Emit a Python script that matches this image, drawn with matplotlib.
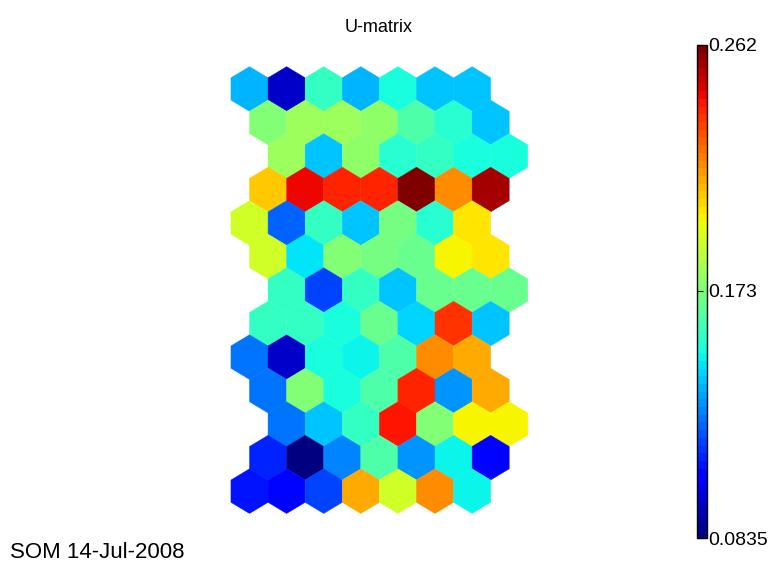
import numpy as np
import matplotlib
matplotlib.use("Agg")
from matplotlib import pyplot as plt
from matplotlib.collections import PolyCollection

plt.rcParams['font.family'] = ['Liberation Sans', 'DejaVu Sans']

# U-matrix distances, 13 rows x 7 units, top row first
umat = [
    [0.1365, 0.0947, 0.1585, 0.1365, 0.1531, 0.1420, 0.1420],
    [0.1754, 0.1811, 0.1811, 0.1781, 0.1616, 0.1560, 0.1420],
    [0.1811, 0.1406, 0.1781, 0.1560, 0.1585, 0.1531, 0.1531],
    [0.2076, 0.2442, 0.2370, 0.2370, 0.2620, 0.2174, 0.2549],
    [0.1897, 0.1228, 0.1585, 0.1406, 0.1701, 0.1560, 0.2013],
    [0.1897, 0.1451, 0.1754, 0.1701, 0.1674, 0.1990, 0.2030],
    [0.1585, 0.1174, 0.1585, 0.1406, 0.1674, 0.1674, 0.1674],
    [0.1585, 0.1585, 0.1531, 0.1674, 0.1433, 0.2342, 0.1406],
    [0.1254, 0.0947, 0.1531, 0.1504, 0.1638, 0.2201, 0.2120],
    [0.1254, 0.1728, 0.1513, 0.1616, 0.2370, 0.1335, 0.2120],
    [0.1254, 0.1406, 0.1585, 0.2424, 0.1728, 0.1990, 0.1990],
    [0.1138, 0.0835, 0.1308, 0.1638, 0.1335, 0.1504, 0.1085],
    [0.1113, 0.1085, 0.1192, 0.2120, 0.1897, 0.2201, 0.1504],
]
vmin, vmax = 0.0835, 0.262
cbar_ticks = [0.0835, 0.173, 0.262]
cbar_labels = ["0.0835", "0.173", "0.262"]

umat = np.array(umat)
nrows, ncols = umat.shape
shift = [0, 0.5, 1, 0.5]  # row shift in unit widths
r = 1 / np.sqrt(3)  # hexagon circumradius for unit width
ang = np.pi / 2 + np.arange(6) * np.pi / 3

polys = []
vals = []
for i in range(nrows):
    for j in range(ncols):
        cx = j + shift[i % 4]
        cy = -i * 1.5 * r
        polys.append(np.column_stack([cx + r * np.cos(ang), cy + r * np.sin(ang)]))
        vals.append(umat[i, j])

fig = plt.figure(figsize=(7.69, 5.70), dpi=100)
ax = fig.add_axes([0.2762, 0.0704, 0.4342, 0.8414])
cmap = plt.get_cmap('jet', 64)
pc = PolyCollection(polys, array=np.array(vals), cmap=cmap,
                    edgecolors='face', linewidths=0.3)
pc.set_clim(vmin, vmax)
ax.add_collection(pc)
ax.set_xlim(-1, 8)
ax.set_ylim(-12 * 1.5 * r - 1, 1)
ax.axis('off')

fig.text(379 / 769, 1 - 28 / 570, "U-matrix", ha='center', va='center', fontsize=13)

cax = fig.add_axes([0.9064, 0.0561, 0.013, 0.865])
cb = fig.colorbar(pc, cax=cax, ticks=cbar_ticks)
cb.ax.set_yticklabels(cbar_labels)
cb.outline.set_linewidth(1.0)
cb.ax.tick_params(axis='y', direction='in', left=True, right=False,
                  labelright=True, length=4, width=0.8, pad=1, labelsize=14)

fig.text(10 / 769, 1 - 553 / 570, "SOM 14-Jul-2008", ha='left', va='center', fontsize=16)

fig.savefig("out.png", dpi=100)
